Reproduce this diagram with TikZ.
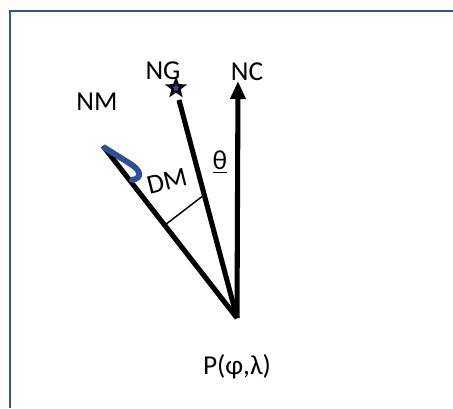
\documentclass[tikz,border=0pt]{standalone}
\usepackage{fontspec}
\setmainfont{Carlito}
\setsansfont{Carlito}
\RequirePackage{xcolor}
\definecolor{frameblue}{RGB}{47,85,151}
\definecolor{markblue}{RGB}{45,80,150}
\tikzset{every picture/.style={/utils/exec={\sffamily}}}
\usetikzlibrary{calc}
\usetikzlibrary{positioning}
\usetikzlibrary{arrows.meta}
\usetikzlibrary{shapes.geometric}
\tikzset{
  dirline/.style={line width=3.8pt},
  lbl/.style={font=\fontsize{20.5}{22}\selectfont, inner sep=0pt},
}

\begin{document}
\begin{tikzpicture}[x=0.75pt, y=-0.75pt]
  \useasboundingbox (0,0) rectangle (453,408);
  \draw [frameblue, line width=2.2pt] (10,408) -- (10,11) -- (453,11);

  \coordinate (p) at (237,318);
  \coordinate (nc) at (238,81);
  \coordinate (ngend) at (179,100);
  \coordinate (nm) at (103,146);
  \node [star, star points=5, star point ratio=2.4, draw=black, fill=markblue, line width=1.8pt, minimum size=12pt, inner sep=0pt] (ng) at (176,88) {};

  \draw [dirline, -{Triangle[length=13.5pt, width=11pt]}] (p) -- (nc);
  \draw [dirline] (p) -- (ngend);
  \draw [dirline] (p) -- (nm);

  % declination mark
  \draw [markblue, line width=4.4pt, line cap=round] (105,148) -- (129,163) .. controls (141,170) and (143,178) .. (132,180);

  \coordinate (dma) at (165,225);
  \coordinate (dmb) at (204,195);
  \draw [line width=1.1pt] (dma) -- (dmb);

  \node [lbl] (nclabel) at (247,72) {NC};
  \node [lbl] (nglabel) at (163,71) {NG};
  \node [lbl] (nmlabel) at (97,102) {NM};
  \node [lbl, rotate=14] (dmlabel) at (167,181) {DM};
  \node [lbl] (thlabel) at (220,162) {\underline{θ}};
  \node [lbl, below=27pt of p] (plabel) {P(φ,λ)};
\end{tikzpicture}
\end{document}
